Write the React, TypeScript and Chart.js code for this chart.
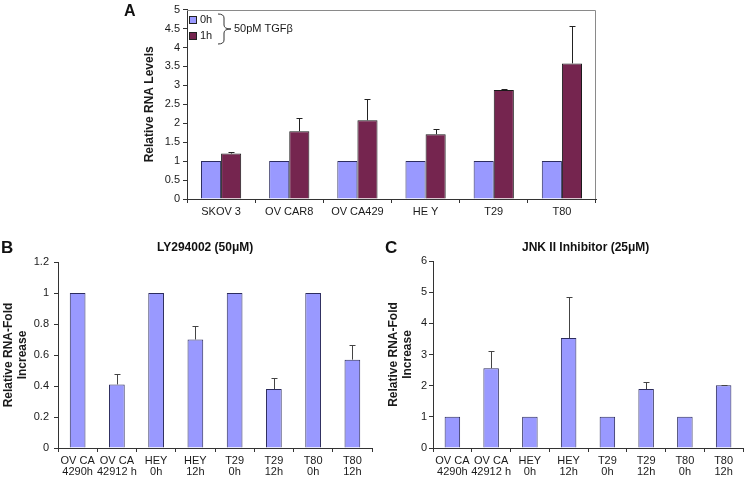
import React, { useEffect, useRef } from 'react';
import { Chart, registerables } from 'chart.js';

Chart.register(...registerables);

const FONT = '"Liberation Sans", Arial, Helvetica, sans-serif';
const BLUE = '#9999FF';
const BLUE_EDGE = '#2c2c5e';
const MAROON = '#75254F';
const AXIS = '#333333';
const TEXT = '#1a1a1a';

// ---------- Panel A data ----------
const catsA = ['SKOV 3', 'OV CAR8', 'OV CA429', 'HE Y', 'T29', 'T80'];
const seriesNamesA = ['0h', '1h'];
const a0h = [1, 1, 1, 1, 1, 1];
const a1h = [1.2, 1.79, 2.08, 1.71, 2.88, 3.58];
const a1hErr = [0.05, 0.35, 0.56, 0.13, 0.02, 1.0];
const yRangeA = [0, 5, 0.5];
const noteA = '50pM TGFβ';
const yTitleA = 'Relative RNA Levels';

// ---------- Panels B and C data ----------
const catsBC = [
  ['OV CA', '4290h'],
  ['OV CA', '42912 h'],
  ['HEY', '0h'],
  ['HEY', '12h'],
  ['T29', '0h'],
  ['T29', '12h'],
  ['T80', '0h'],
  ['T80', '12h'],
];
const bVals = [1, 0.41, 1, 0.7, 1, 0.38, 1, 0.57];
const bErr = [0, 0.065, 0, 0.09, 0, 0.07, 0, 0.095];
const yRangeB = [0, 1.2, 0.2];
const titleB = 'LY294002 (50μM)';

const cVals = [1, 2.56, 1, 3.53, 1, 1.89, 1, 2.01];
const cErr = [0, 0.55, 0, 1.3, 0, 0.24, 0, 0.02];
const yRangeC = [0, 6, 1];
const titleC = 'JNK II Inhibitor (25μM)';
const yTitleBC = ['Relative RNA-Fold', 'Increase'];

const tickCb = (v: any) => String(Number(Number(v).toFixed(2)));

function errorPlugin(errs: (number[] | null)[], color: string) {
  return {
    id: 'errBars',
    afterDatasetsDraw(chart: any) {
      const ctx = chart.ctx;
      chart.data.datasets.forEach((ds: any, di: number) => {
        const e = errs[di];
        if (!e) return;
        const meta = chart.getDatasetMeta(di);
        const ys = chart.scales[meta.yAxisID];
        meta.data.forEach((bar: any, i: number) => {
          const err = e[i];
          if (!err) return;
          const v = ds.data[i];
          const x = Math.round(bar.x) + 0.5;
          const y0 = ys.getPixelForValue(v);
          const y1 = Math.round(ys.getPixelForValue(v + err)) + 0.5;
          ctx.save();
          ctx.strokeStyle = color;
          ctx.lineWidth = 1;
          ctx.beginPath();
          ctx.moveTo(x, y0);
          ctx.lineTo(x, y1);
          ctx.moveTo(x - 3, y1);
          ctx.lineTo(x + 3, y1);
          ctx.stroke();
          ctx.restore();
        });
      });
    },
  };
}

const boxPlugin = {
  id: 'boxA',
  beforeDatasetsDraw(chart: any) {
    const { ctx, chartArea: ca } = chart;
    ctx.save();
    ctx.strokeStyle = '#8a8a8a';
    ctx.lineWidth = 1;
    ctx.beginPath();
    ctx.moveTo(ca.left, Math.round(ca.top) + 0.5);
    ctx.lineTo(Math.round(ca.right) - 0.5, Math.round(ca.top) + 0.5);
    ctx.lineTo(Math.round(ca.right) - 0.5, ca.bottom);
    ctx.stroke();
    ctx.restore();
  },
};

const legendPluginA = {
  id: 'legendA',
  afterDraw(chart: any) {
    const { ctx, chartArea: ca } = chart;
    const x0 = Math.round(ca.left) + 2;
    const y0 = Math.round(ca.top) + 6;
    ctx.save();
    ctx.font = `11px ${FONT}`;
    ctx.textBaseline = 'middle';
    ctx.textAlign = 'left';
    chart.data.datasets.forEach((ds: any, i: number) => {
      const y = y0 + i * 16;
      ctx.fillStyle = ds.backgroundColor;
      ctx.fillRect(x0, y, 7, 7);
      ctx.strokeStyle = '#222';
      ctx.lineWidth = 1;
      ctx.strokeRect(x0 + 0.5, y + 0.5, 7, 7);
      ctx.fillStyle = TEXT;
      ctx.fillText(ds.label, x0 + 11, y + 4);
    });
    // brace
    const x1 = Math.round(ca.left) + 31;
    const xm = x1 + 6;
    const xt = x1 + 13;
    const yT = Math.round(ca.top) + 4;
    const yB = yT + 30;
    const yM = (yT + yB) / 2;
    ctx.strokeStyle = '#333';
    ctx.beginPath();
    ctx.moveTo(x1, yT);
    ctx.quadraticCurveTo(xm, yT, xm, yT + 4);
    ctx.lineTo(xm, yM - 4);
    ctx.quadraticCurveTo(xm, yM, xt, yM);
    ctx.quadraticCurveTo(xm, yM, xm, yM + 4);
    ctx.lineTo(xm, yB - 4);
    ctx.quadraticCurveTo(xm, yB, x1, yB);
    ctx.stroke();
    ctx.fillStyle = TEXT;
    ctx.fillText(noteA, xt + 3, yM);
    ctx.restore();
  },
};

function yScale(range: number[], width: number, title: any, titlePadTop: number, tickPad: number) {
  return {
    min: range[0],
    max: range[1],
    ticks: {
      stepSize: range[2],
      callback: tickCb,
      font: { family: FONT, size: 11 },
      color: TEXT,
      padding: tickPad,
    },
    grid: { drawOnChartArea: false, drawTicks: true, tickLength: 4, color: AXIS },
    border: { display: true, color: AXIS },
    title: {
      display: true,
      text: title,
      font: { family: FONT, size: 12, weight: 'bold', lineHeight: '14px' },
      color: TEXT,
      padding: { top: titlePadTop, bottom: 0 },
    },
    afterFit: (s: any) => {
      s.width = width;
    },
  };
}

function xScale(height: number) {
  return {
    type: 'category',
    offset: true,
    ticks: {
      font: { family: FONT, size: 11, lineHeight: 1 },
      color: TEXT,
      padding: 3,
      maxRotation: 0,
      minRotation: 0,
      autoSkip: false,
    },
    grid: { offset: true, drawOnChartArea: false, drawTicks: true, tickLength: 4, color: AXIS },
    border: { display: true, color: AXIS },
    afterFit: (s: any) => {
      s.height = height;
    },
  };
}

function configA(): any {
  return {
    type: 'bar',
    data: {
      labels: catsA,
      datasets: [
        {
          label: seriesNamesA[0],
          data: a0h,
          backgroundColor: BLUE,
          borderColor: BLUE_EDGE,
          borderWidth: 1,
          categoryPercentage: 0.59,
          barPercentage: 1,
        },
        {
          label: seriesNamesA[1],
          data: a1h,
          backgroundColor: MAROON,
          borderColor: '#1a1a1a',
          borderWidth: 1,
          categoryPercentage: 0.59,
          barPercentage: 1,
        },
      ],
    },
    options: {
      responsive: false,
      animation: false,
      layout: { padding: { left: 0, right: 4, top: 8, bottom: 0 } },
      plugins: { legend: { display: false }, tooltip: { enabled: false } },
      scales: {
        x: xScale(41),
        y: yScale(yRangeA, 87, yTitleA, 43, 3),
      },
    },
    plugins: [boxPlugin, errorPlugin([null, a1hErr], '#222'), legendPluginA],
  };
}

function configBC(vals: number[], errs: number[], range: number[], padRight: number, padTop: number, titlePad: number, tickPad: number): any {
  return {
    type: 'bar',
    data: {
      labels: catsBC,
      datasets: [
        {
          label: 'value',
          data: vals,
          backgroundColor: BLUE,
          borderColor: BLUE_EDGE,
          borderWidth: 1,
          categoryPercentage: 1,
          barPercentage: 0.4,
        },
      ],
    },
    options: {
      responsive: false,
      animation: false,
      layout: { padding: { left: 0, right: padRight, top: padTop, bottom: 0 } },
      plugins: { legend: { display: false }, tooltip: { enabled: false } },
      scales: {
        x: xScale(32),
        y: yScale(range, 58, yTitleBC, titlePad, tickPad),
      },
    },
    plugins: [errorPlugin([errs], '#444')],
  };
}

function Panel({ left, top, width, height, make }: any) {
  const ref = useRef<HTMLCanvasElement>(null);
  useEffect(() => {
    if (!ref.current) return;
    const chart = new Chart(ref.current, make());
    return () => chart.destroy();
  }, []);
  return (
    <canvas
      ref={ref}
      width={width}
      height={height}
      style={{ position: 'absolute', left, top, width, height }}
    />
  );
}

const labelStyle: any = {
  position: 'absolute',
  fontFamily: FONT,
  fontWeight: 'bold',
  color: '#111',
  whiteSpace: 'nowrap',
};

export default function App() {
  return (
    <div style={{ position: 'absolute', left: 0, top: 0, width: 746, height: 480, background: '#fff', overflow: 'hidden' }}>
      <Panel left={100} top={0} width={500} height={240} make={configA} />
      <Panel left={0} top={240} width={390} height={240} make={() => configBC(bVals, bErr, yRangeB, 18, 22, 2, 5)} />
      <Panel left={375} top={240} width={371} height={240} make={() => configBC(cVals, cErr, yRangeC, 3, 21, 12, 2)} />
      <div style={{ ...labelStyle, left: 124, top: 3, fontSize: 16, lineHeight: '16px' }}>A</div>
      <div style={{ ...labelStyle, left: 1, top: 239, fontSize: 17, lineHeight: '17px' }}>B</div>
      <div style={{ ...labelStyle, left: 385, top: 239, fontSize: 17, lineHeight: '17px' }}>C</div>
      <div style={{ ...labelStyle, left: 157, top: 240, fontSize: 12, lineHeight: '14px' }}>{titleB}</div>
      <div style={{ ...labelStyle, left: 522, top: 240, fontSize: 12, lineHeight: '14px' }}>{titleC}</div>
    </div>
  );
}
